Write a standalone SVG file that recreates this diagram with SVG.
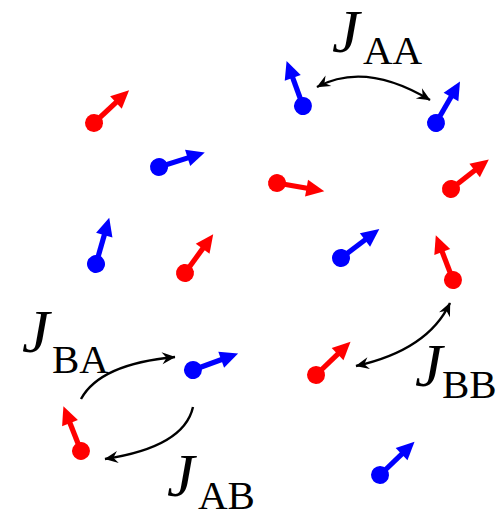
<svg xmlns="http://www.w3.org/2000/svg" xmlns:xlink="http://www.w3.org/1999/xlink" width="500" height="513" viewBox="0 0 500 513">
<style>
.r{fill:#ff0000}
.b{fill:#0000ff}
.link{fill:none;stroke:#000;stroke-width:2.4}
.lbl{font-family:"Liberation Serif","Times New Roman",serif;fill:#000}
.J{font-style:italic;font-size:62px}
.sub{font-size:41px}
</style>
<defs>
<g id="spin">
<circle cx="0" cy="0" r="9"/>
<rect x="0" y="-2.6" width="32" height="5.2"/>
<path d="M48,0 L30,-8.5 L30,8.5 Z"/>
</g>
<marker id="tip" viewBox="-14 -7 15 14" refX="0" refY="0" markerWidth="15" markerHeight="14" markerUnits="userSpaceOnUse" orient="auto-start-reverse">
<path d="M0.5,0 L-13,-6 L-8.5,0 L-13,6 Z" fill="#000"/>
</marker>
</defs>
<g id="spins">
<g id="s1" class="r"><use xlink:href="#spin" transform="translate(94,123) rotate(-43)"/></g>
<g id="s2" class="b"><use xlink:href="#spin" transform="translate(159,167) rotate(-17.5)"/></g>
<g id="s3" class="b"><use xlink:href="#spin" transform="translate(96,264) rotate(-74)"/></g>
<g id="s4" class="r"><use xlink:href="#spin" transform="translate(185,273) rotate(-54)"/></g>
<g id="s5" class="r"><use xlink:href="#spin" transform="translate(277,183) rotate(10)"/></g>
<g id="s6" class="r"><use xlink:href="#spin" transform="translate(451,189) rotate(-38)"/></g>
<g id="s7" class="b"><use xlink:href="#spin" transform="translate(341,258) rotate(-37)"/></g>
<g id="s8" class="r"><use xlink:href="#spin" transform="translate(453,280) rotate(-111)"/></g>
<g id="s9" class="r"><use xlink:href="#spin" transform="translate(316,375) rotate(-44)"/></g>
<g id="s10" class="b"><use xlink:href="#spin" transform="translate(303,106) rotate(-110)"/></g>
<g id="s11" class="b"><use xlink:href="#spin" transform="translate(436,123) rotate(-60)"/></g>
<g id="s12" class="b"><use xlink:href="#spin" transform="translate(193,370) rotate(-20)"/></g>
<g id="s13" class="r"><use xlink:href="#spin" transform="translate(81,451) rotate(-111.5)"/></g>
<g id="s14" class="b"><use xlink:href="#spin" transform="translate(380,475) rotate(-44)"/></g>
</g>
<g id="connectors">
<path class="link" d="M317,87 Q365,61 430,100" marker-start="url(#tip)" marker-end="url(#tip)"/>
<path class="link" d="M450,303 Q428,350 356,366" marker-start="url(#tip)" marker-end="url(#tip)"/>
<path class="link" d="M81,399 Q100,364 175,357" marker-end="url(#tip)"/>
<path class="link" d="M193,407 Q184,447 105,459" marker-end="url(#tip)"/>
</g>
<g id="labels">
<text class="lbl"><tspan class="J" x="332" y="52">J</tspan><tspan class="sub" x="363" y="64">AA</tspan></text>
<text class="lbl"><tspan class="J" x="22" y="352">J</tspan><tspan class="sub" x="52" y="373">BA</tspan></text>
<text class="lbl"><tspan class="J" x="167" y="496">J</tspan><tspan class="sub" x="198" y="509">AB</tspan></text>
<text class="lbl"><tspan class="J" x="415" y="386">J</tspan><tspan class="sub" x="442" y="398">BB</tspan></text>
</g>
</svg>
